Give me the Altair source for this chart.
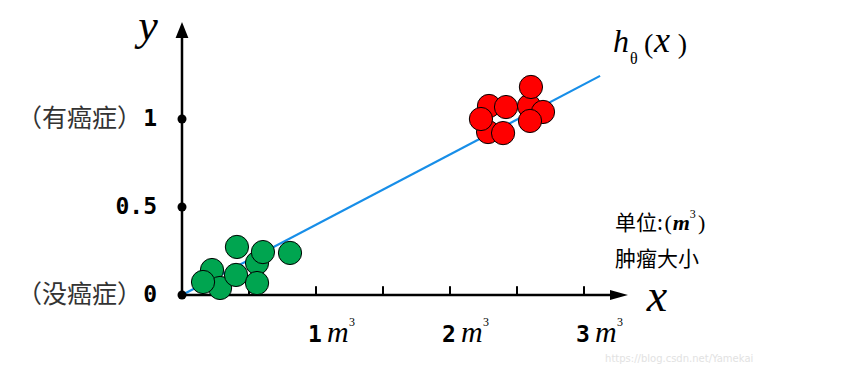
import altair as alt
import pandas as pd

# ---- data ----
green_x = [0.224, 0.284, 0.157, 0.410, 0.560, 0.604, 0.403, 0.560, 0.806]
green_y = [0.142, 0.040, 0.074, 0.273, 0.182, 0.244, 0.114, 0.068, 0.239]
red_x = [2.291, 2.284, 2.231, 2.418, 2.396, 2.590, 2.604, 2.694, 2.597]
red_y = [1.074, 0.926, 1.000, 1.068, 0.920, 1.074, 1.182, 1.040, 0.989]
line_x = [0.0, 3.12]
line_y = [0.0, 1.245]
y_ticks = [0, 0.5, 1]
y_tick_labels = ["0", "0.5", "1"]
y_cn_labels = ["（没癌症）", "", "（有癌症）"]
x_ticks = [0.5, 1, 1.5, 2, 2.5, 3]
x_label_vals = [1, 2, 3]
x_label_text = ["1", "2", "3"]
axis_ends = [3.27, 1.50]

xs = alt.Scale(domain=[-1.2985, 5.0149], nice=False, zero=False)
ys = alt.Scale(domain=[-0.392, 1.6307], nice=False, zero=False)


def X(f="x"):
    return alt.X(f"{f}:Q", scale=xs, axis=None)


def Y(f="y"):
    return alt.Y(f"{f}:Q", scale=ys, axis=None)


def txt(df, **kw):
    return alt.Chart(pd.DataFrame(df)).mark_text(**kw).encode(x=X(), y=Y(), text="t:N")


green = pd.DataFrame({"x": green_x, "y": green_y})
red = pd.DataFrame({"x": red_x, "y": red_y})

axes = alt.Chart(pd.DataFrame({"x": [0, 0], "x2": [0, axis_ends[0]],
                               "y": [0, 0], "y2": [axis_ends[1], 0]})).mark_rule(
    color="black", strokeWidth=2.5).encode(x=X(), x2="x2:Q", y=Y(), y2="y2:Q")

arrow_up = alt.Chart(pd.DataFrame({"x": [0], "y": [1.506]})).mark_point(
    shape="M0,-1L0.8,1L-0.8,1Z", filled=True, color="black", opacity=1, size=256
).encode(x=X(), y=Y())
arrow_right = alt.Chart(pd.DataFrame({"x": [3.261], "y": [0]})).mark_point(
    shape="M1,0L-1,0.55L-1,-0.55Z", filled=True, color="black", opacity=1, size=324
).encode(x=X(), y=Y())

xtick = alt.Chart(pd.DataFrame({"x": x_ticks, "y": [0] * len(x_ticks),
                                "y2": [0.05] * len(x_ticks)})).mark_rule(
    color="black", strokeWidth=2).encode(x=X(), y=Y(), y2="y2:Q")

ydots = alt.Chart(pd.DataFrame({"x": [0] * 3, "y": y_ticks})).mark_circle(
    color="black", opacity=1, size=81).encode(x=X(), y=Y())

hline = alt.Chart(pd.DataFrame({"x": line_x, "y": line_y})).mark_line(
    color="#178ee8", strokeWidth=2.2).encode(x=X(), y=Y())

gpts = alt.Chart(green).mark_circle(size=540, color="#00a550", opacity=1,
                                     stroke="black", strokeWidth=1).encode(x=X(), y=Y())
rpts = alt.Chart(red).mark_circle(size=540, color="#ff0000", opacity=1,
                                   stroke="black", strokeWidth=1).encode(x=X(), y=Y())

# y tick labels
ynum = txt({"x": [0] * 3, "y": y_ticks, "t": y_tick_labels}, align="right", baseline="middle",
           dx=-25, font="DejaVu Sans Mono", fontWeight="bold", fontSize=23, color="black")
ycn = txt({"x": [0] * 3, "y": y_ticks, "t": y_cn_labels}, align="right", baseline="middle",
          dx=-40, font="Noto Sans CJK SC", fontSize=25, color="#333333")

# x tick labels
xnum = txt({"x": x_label_vals, "y": [0] * 3, "t": x_label_text}, align="center",
           baseline="alphabetic", dx=-1, dy=47, font="DejaVu Sans Mono", fontWeight="bold",
           fontSize=23, color="black")
xm = txt({"x": x_label_vals, "y": [0] * 3, "t": ["m"] * 3}, align="left", baseline="alphabetic",
         dx=11, dy=47, font="Liberation Serif", fontStyle="italic", fontSize=30, color="black")
xsup = txt({"x": x_label_vals, "y": [0] * 3, "t": ["3"] * 3}, align="left", baseline="alphabetic",
           dx=33, dy=31, font="Liberation Serif", fontSize=12, color="black")

# axis names
ylab = txt({"x": [-0.254], "y": [1.449], "t": ["y"]}, align="center", baseline="alphabetic",
           font="Liberation Serif", fontStyle="italic", fontSize=44, color="black")
xlab = txt({"x": [3.545], "y": [-0.09], "t": ["x"]}, align="center", baseline="alphabetic",
           font="Liberation Serif", fontStyle="italic", fontSize=46, color="black")

# h_theta(x)
h_h = txt({"x": [3.216], "y": [1.381], "t": ["h"]}, align="left", baseline="alphabetic",
          font="Liberation Serif", fontStyle="italic", fontSize=32, color="black")
h_x = txt({"x": [3.522], "y": [1.381], "t": ["x"]}, align="left", baseline="alphabetic",
          font="Liberation Serif", fontStyle="italic", fontSize=36, color="black")
h_th = txt({"x": [3.343], "y": [1.313], "t": ["θ"]}, align="left", baseline="alphabetic",
           font="Liberation Serif", fontSize=16, color="black")
h_par = txt({"x": [3.447, 3.70], "y": [1.375, 1.375], "t": ["(", ")"]}, align="left",
            baseline="alphabetic", font="Liberation Serif", fontSize=28, color="black")

# unit note
unit_cn = txt({"x": [3.231, 3.231], "y": [0.369, 0.165], "t": ["单位:", "肿瘤大小"]},
              align="left", baseline="alphabetic", font="Noto Sans CJK SC", fontSize=21,
              color="black")
unit_p = txt({"x": [3.60, 3.85], "y": [0.372, 0.372], "t": ["(", ")"]}, align="left",
             baseline="alphabetic", font="Liberation Serif", fontSize=22, color="black")
unit_m = txt({"x": [3.662], "y": [0.369], "t": ["m"]}, align="left", baseline="alphabetic",
             font="Liberation Serif", fontStyle="italic", fontWeight="bold", fontSize=22,
             color="black")
unit_3 = txt({"x": [3.79], "y": [0.44], "t": ["3"]}, align="left", baseline="alphabetic",
             font="Liberation Serif", fontSize=12, color="black")

wm = txt({"x": [3.157], "y": [-0.381], "t": ["https://blog.csdn.net/Yamekai"]}, align="left",
         baseline="alphabetic", font="DejaVu Sans", fontSize=10, color="#e2e2e2")

chart = alt.layer(
    hline, axes, xtick, arrow_up, arrow_right, ydots, gpts, rpts,
    ynum, ycn, xnum, xm, xsup, ylab, xlab, h_h, h_x, h_th, h_par,
    unit_cn, unit_p, unit_m, unit_3, wm
).properties(
    width=846, height=356, autosize=alt.AutoSizeParams(type="none"), padding=0,
    background="white"
).configure_view(stroke=None)

chart.save("out.html", embed_options={"renderer": "svg", "actions": False})
